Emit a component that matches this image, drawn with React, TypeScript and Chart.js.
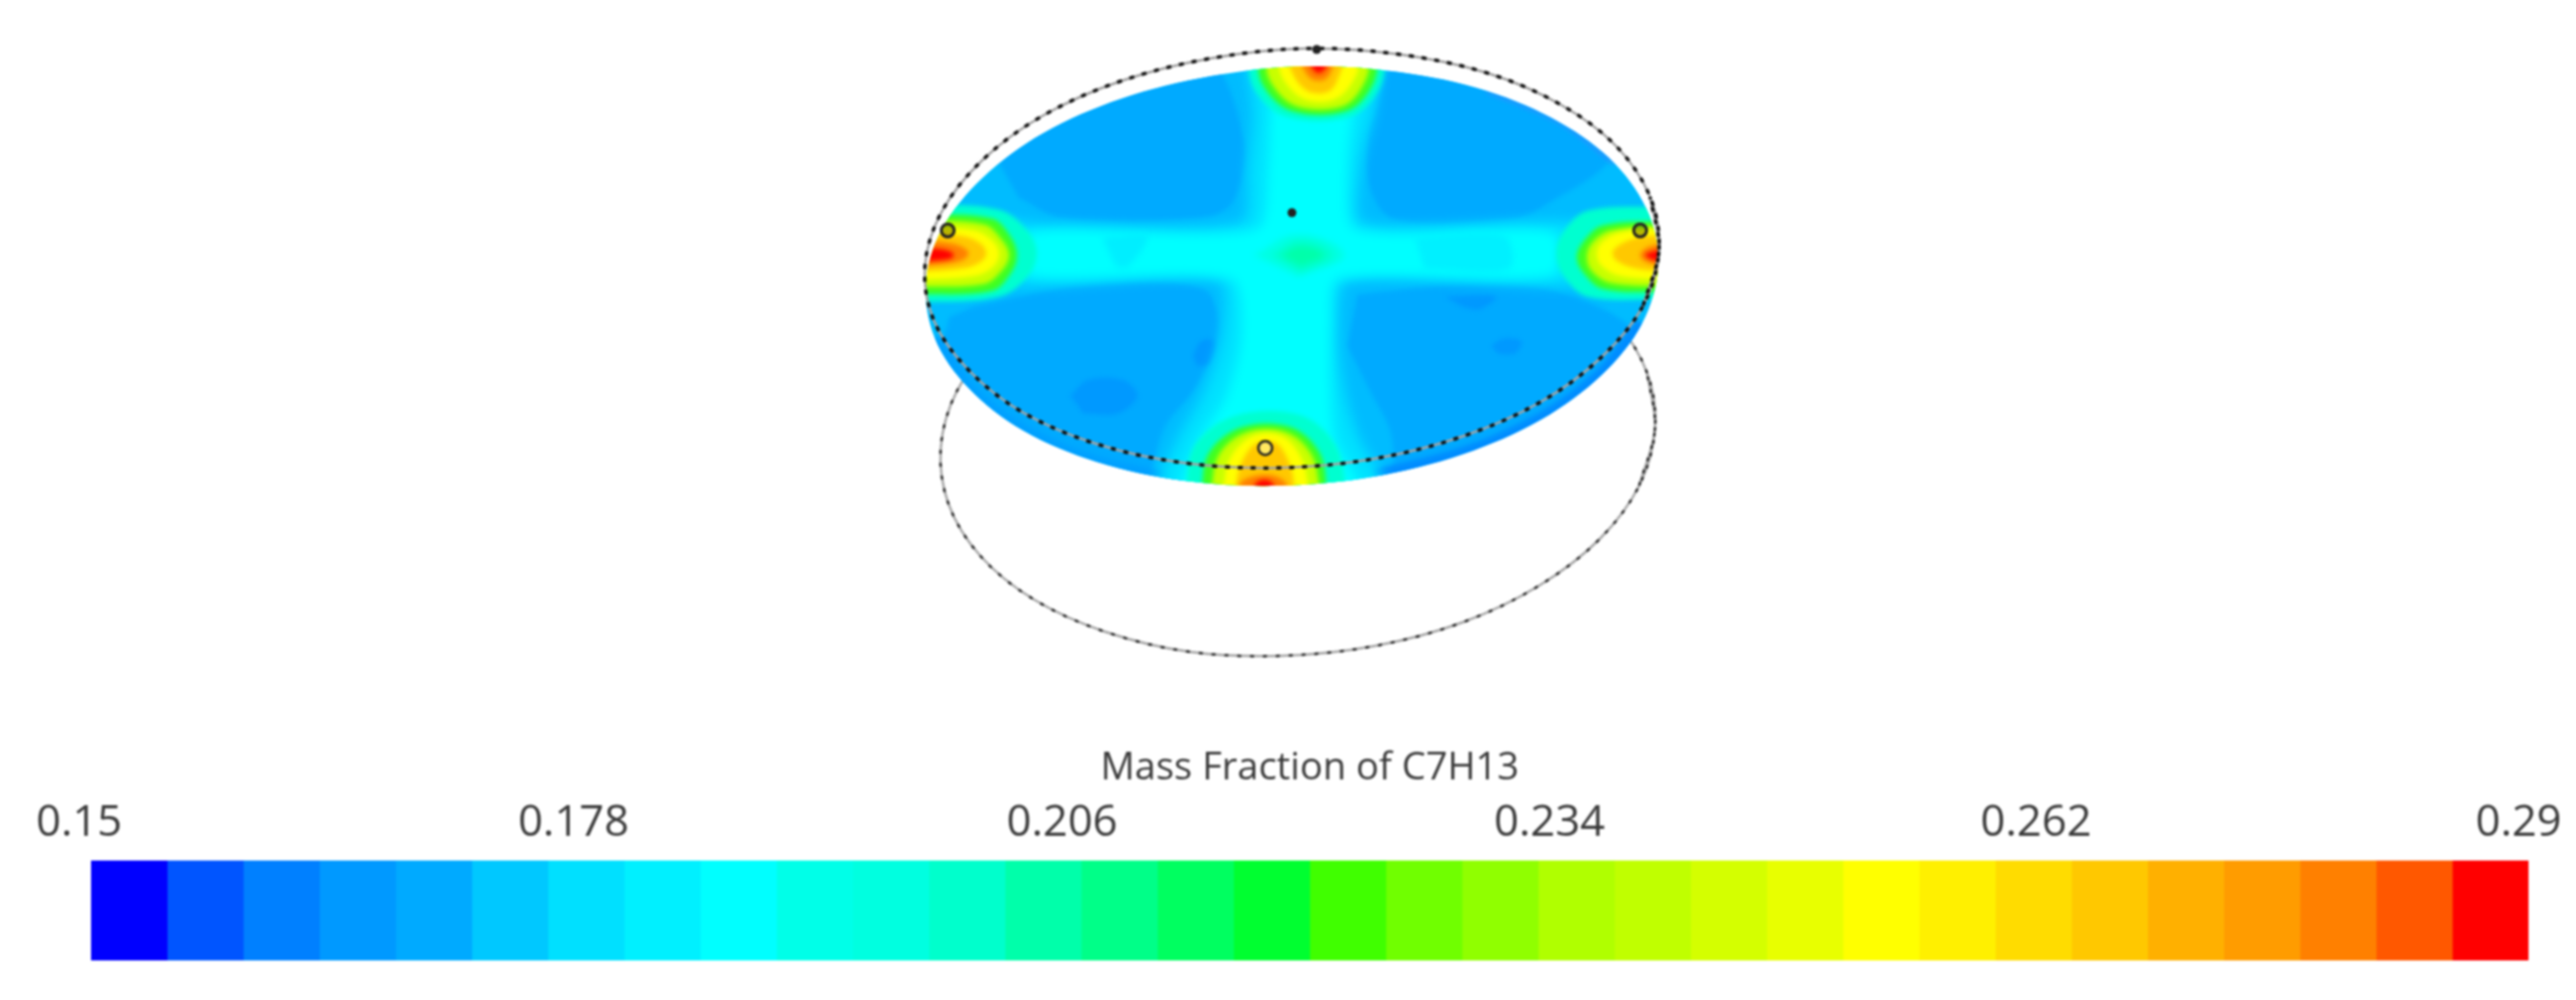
import React, { useEffect, useRef } from "react";
import { Chart, registerables } from "chart.js";

const clipToDisc = {
  id: "clipToDisc",
  beforeDatasetDraw(chart: any, args: any) {
    const ds = chart.data.datasets[args.index];
    if (!ds || (!ds.clipDisc && !ds.soft)) return;
    const ctx = chart.ctx;
    ctx.save();
    if (ds.clipDisc) {
      const idx = chart.data.datasets.findIndex((d: any) => d.isDisc);
      const meta = chart.getDatasetMeta(idx);
      meta.dataset.updateControlPoints(chart.chartArea, "x");
      const p = meta.data;
      ctx.beginPath();
      ctx.moveTo(p[0].x, p[0].y);
      for (let i = 1; i < p.length; i++) {
        ctx.bezierCurveTo(p[i - 1].cp2x, p[i - 1].cp2y, p[i].cp1x, p[i].cp1y, p[i].x, p[i].y);
      }
      ctx.closePath();
      ctx.clip();
    }
    if (ds.soft) ctx.filter = `blur(${ds.soft}px)`;
  },
  afterDatasetDraw(chart: any, args: any) {
    const ds = chart.data.datasets[args.index];
    if (ds && (ds.clipDisc || ds.soft)) chart.ctx.restore();
  },
};
Chart.register(clipToDisc);
Chart.register(...registerables);

type P = [number, number];

// ---------- colour bar ----------
const colorbarTitle = "Mass Fraction of C7H13";
const tickValues = [0.15, 0.178, 0.206, 0.234, 0.262, 0.29];
const tickNudge = [-12, -5, -4, -4, -5, -10];
const levels = [
  0.15, 0.154375, 0.15875, 0.163125, 0.1675, 0.171875, 0.17625, 0.180625, 0.185, 0.189375, 0.19375,
  0.198125, 0.2025, 0.206875, 0.21125, 0.215625, 0.22, 0.224375, 0.22875, 0.233125, 0.2375, 0.241875,
  0.24625, 0.250625, 0.255, 0.259375, 0.26375, 0.268125, 0.2725, 0.276875, 0.28125, 0.285625, 0.29,
];
const bandColors = [
  "#0000ff", "#0055ff", "#0080ff", "#0099ff", "#00aaff", "#00c8ff", "#00e0ff", "#00f0ff",
  "#00ffff", "#00ffe8", "#00ffe0", "#00ffcc", "#00ffaa", "#00ff88", "#00ff60", "#00ff30",
  "#40ff00", "#70ff00", "#90ff00", "#b0ff00", "#c0ff00", "#d4ff00", "#e8ff00", "#ffff00",
  "#fff000", "#ffdc00", "#ffc800", "#ffb000", "#ff9c00", "#ff8000", "#ff5800", "#ff0000",
];

// ---------- geometry ----------
const discOutline: P[] = [
  [1676, 271], [1667, 217], [1633, 166], [1577, 124], [1503, 92], [1415, 73], [1320, 67], [1224, 77],
  [1133, 100], [1054, 135], [993, 180], [952, 232], [936, 287], [945, 342], [979, 392], [1034, 435],
  [1109, 467], [1197, 486], [1292, 491], [1388, 482], [1479, 459], [1558, 424], [1619, 379], [1660, 327],
];
const topRing: P[] = [
  [1677, 253], [1668, 199], [1634, 148], [1578, 106], [1504, 74], [1415, 55], [1320, 49], [1224, 59],
  [1133, 82], [1054, 117], [993, 162], [952, 214], [935, 269], [944, 324], [979, 374], [1034, 417],
  [1109, 449], [1197, 468], [1292, 473], [1388, 464], [1479, 441], [1558, 406], [1619, 361], [1661, 309],
];
const lowerRing: P[] = [
  [1673, 433], [1665, 377], [1633, 325], [1578, 281], [1506, 248], [1421, 228], [1328, 223], [1234, 234],
  [1145, 258], [1068, 295], [1007, 342], [967, 396], [951, 453], [959, 510], [991, 562], [1045, 606],
  [1118, 639], [1203, 659], [1296, 663], [1390, 653], [1479, 629], [1556, 592], [1617, 545], [1657, 491],
];
const rimLeft: P[] = [[945, 342], [979, 392], [1034, 435], [1109, 467], [1197, 486]];
const rimRight: P[] = [[1388, 482], [1479, 459], [1558, 424], [1619, 379], [1660, 327]];
const rimTopRight: P[] = [[1503, 92], [1577, 124], [1633, 166]];

const lobeUL: P[] = [[1010, 165], [1060, 100], [1216, 60], [1257, 140], [1247, 203], [1216, 220], [1073, 220], [1030, 200]];
const lobeUR: P[] = [[1410, 50], [1520, 60], [1630, 150], [1558, 210], [1522, 222], [1410, 222], [1385, 190], [1382, 140], [1390, 113]];
const lobeLL: P[] = [[985, 310], [1100, 288], [1215, 292], [1232, 330], [1210, 390], [1178, 430], [1150, 495], [1040, 470], [950, 380], [960, 320]];
const lobeLR: P[] = [[1372, 298], [1480, 288], [1575, 295], [1660, 345], [1640, 420], [1530, 490], [1420, 500], [1405, 435], [1385, 395], [1362, 350]];
const darkPatches: P[][] = [
  [[1082, 400], [1100, 384], [1135, 384], [1150, 400], [1130, 418], [1095, 418]],
  [[1507, 350], [1520, 342], [1538, 345], [1532, 357], [1515, 358]],
  [[1206, 360], [1214, 345], [1227, 345], [1222, 368], [1210, 370]],
  [[1461, 300], [1512, 300], [1495, 313], [1478, 310]],
];
const crossMid: P[] = [
  [1260, 60], [1267, 113], [1262, 170], [1255, 225], [1060, 228], [1000, 226], [1000, 285], [1232, 283],
  [1236, 340], [1215, 400], [1190, 445], [1170, 500], [1400, 500], [1372, 440], [1360, 400], [1352, 340],
  [1362, 283], [1610, 285], [1610, 228], [1378, 226], [1375, 170], [1388, 113], [1395, 60],
];
const crossCore: P[] = [
  [1285, 80], [1282, 170], [1270, 232], [1040, 235], [1040, 278], [1245, 282], [1255, 340], [1240, 400],
  [1212, 445], [1195, 500], [1375, 500], [1350, 445], [1345, 390], [1345, 330], [1352, 282], [1570, 278],
  [1570, 235], [1370, 232], [1362, 170], [1372, 80],
];
const leftPatch: P[] = [[1114, 240], [1160, 238], [1140, 270], [1128, 270]];
const rightPatch: P[] = [[1430, 240], [1520, 238], [1525, 272], [1440, 272]];
const centerOuter: P[] = [[1267, 258], [1313, 237], [1359, 258], [1313, 280]];
const centerMid: P[] = [[1285, 258], [1315, 243], [1348, 258], [1315, 275]];
const centerInner: P[] = [[1295, 258], [1315, 249], [1338, 258], [1315, 269]];

const hotSteps = ["#00ffd0", "#40ff20", "#c8ff00", "#ffff00", "#ffc800", "#ff8000", "#ff0000"];
const topHot: P[][] = [
  [[1260, 50], [1268, 90], [1300, 118], [1365, 118], [1394, 90], [1402, 50]],
  [[1270, 50], [1276, 85], [1305, 112], [1362, 112], [1388, 85], [1394, 50]],
  [[1278, 50], [1284, 82], [1310, 107], [1358, 107], [1380, 82], [1387, 50]],
  [[1291, 50], [1296, 78], [1318, 100], [1350, 100], [1370, 78], [1376, 50]],
  [[1301, 50], [1306, 73], [1322, 92], [1344, 92], [1355, 73], [1361, 50]],
  [[1311, 50], [1316, 66], [1326, 80], [1340, 80], [1348, 66], [1353, 50]],
  [[1323, 50], [1325, 66], [1333, 74], [1342, 66], [1345, 50]],
];
const bottomHot: P[][] = [
  [[1198, 500], [1208, 450], [1250, 420], [1315, 420], [1350, 450], [1362, 500]],
  [[1214, 500], [1222, 458], [1255, 432], [1305, 432], [1334, 458], [1342, 500]],
  [[1224, 500], [1232, 460], [1260, 437], [1300, 437], [1326, 460], [1335, 500]],
  [[1236, 500], [1243, 464], [1266, 441], [1296, 441], [1316, 464], [1324, 500]],
  [[1248, 500], [1254, 470], [1270, 448], [1290, 448], [1304, 470], [1310, 500]],
  [[1250, 500], [1256, 486], [1280, 480], [1298, 486], [1304, 500]],
  [[1265, 500], [1270, 488], [1278, 485], [1286, 488], [1290, 500]],
];
const leftHot: P[][] = [
  [[925, 206], [1010, 212], [1040, 235], [1048, 256], [1040, 278], [1010, 300], [925, 306]],
  [[925, 216], [1003, 221], [1022, 240], [1028, 258], [1022, 276], [1003, 294], [925, 298]],
  [[925, 223], [995, 227], [1014, 244], [1020, 258], [1014, 272], [995, 287], [925, 290]],
  [[925, 229], [985, 233], [1004, 244], [1010, 257], [1004, 270], [985, 279], [925, 283]],
  [[925, 235], [975, 239], [992, 247], [997, 256], [992, 264], [975, 271], [925, 275]],
  [[925, 242], [962, 246], [975, 251], [979, 256], [975, 262], [962, 266], [925, 270]],
  [[925, 250], [952, 252], [962, 255], [964, 258], [962, 261], [952, 263], [925, 265]],
];
const rightHot: P[][] = [
  [[1685, 209], [1605, 213], [1580, 235], [1573, 257], [1580, 278], [1605, 300], [1685, 303]],
  [[1685, 223], [1620, 228], [1600, 245], [1594, 260], [1600, 275], [1620, 292], [1685, 296]],
  [[1685, 228], [1628, 233], [1609, 246], [1604, 260], [1609, 274], [1628, 286], [1685, 290]],
  [[1685, 230], [1638, 235], [1619, 245], [1614, 257], [1619, 269], [1638, 279], [1685, 283]],
  [[1685, 237], [1652, 241], [1635, 249], [1630, 256], [1635, 264], [1652, 271], [1685, 275]],
  [[1685, 245], [1668, 249], [1661, 253], [1658, 258], [1661, 263], [1668, 266], [1685, 270]],
  [[1685, 250], [1672, 254], [1665, 256], [1663, 258], [1665, 260], [1672, 263], [1685, 266]],
];
const openHoles: P[] = [[958, 233], [1658, 233]];
const bottomHole: P[] = [[1279, 453]];
const solidDots: P[] = [[1306, 215], [1331, 50]];

const pts = (a: P[]) => a.map(([x, y]) => ({ x, y }));
const loop = (a: P[]) => [a[a.length - 1], ...a, a[0], a[1]];

const poly = (a: P[], color: string, tension = 0.35, soft = 0) => ({
  data: pts(a),
  showLine: true,
  fill: "shape",
  backgroundColor: color,
  borderColor: color,
  borderWidth: 0,
  pointRadius: 0,
  tension,
  clipDisc: true,
  soft,
});
const arc = (a: P[], color: string, width: number) => ({
  data: pts(a),
  showLine: true,
  fill: false,
  borderColor: color,
  borderWidth: width,
  pointRadius: 0,
  tension: 0.34,
  clipDisc: true,
  soft: 2,
});
const ring = (a: P[], color: string, width: number, dash: number[]) => ({
  data: pts(loop(a)),
  showLine: true,
  fill: false,
  borderColor: color,
  borderWidth: width,
  borderDash: dash,
  pointRadius: 0,
  tension: 0.34,
  soft: 0.5,
});

export default function App() {
  const topRef = useRef<HTMLCanvasElement>(null);
  const barRef = useRef<HTMLCanvasElement>(null);

  useEffect(() => {
    document.body.style.margin = "0";
    document.body.style.background = "#fff";
    document.body.style.overflow = "hidden";

    const layers: any[] = [
      ring(lowerRing, "#a8a8a8", 2.5, []),
      ring(lowerRing, "#2a2a2a", 2.5, [4, 9]),
      {
        ...poly(loop(discOutline), "#00bcff", 0.34),
        isDisc: true,
        clipDisc: false,
      },
      poly(lobeUL, "#00aaff", 0.35, 2),
      poly(lobeUR, "#00aaff", 0.35, 2),
      poly(lobeLL, "#00aaff", 0.35, 2),
      poly(lobeLR, "#00aaff", 0.35, 2),
      ...darkPatches.map((d) => poly(d, "#0099ff", 0.35, 2)),
      arc(rimLeft, "#00a0ff", 12),
      arc(rimRight, "#008cff", 14),
      arc(rimTopRight, "#3090ff", 3),
      poly(crossMid, "#00e2ff", 0.25, 7),
      poly(crossCore, "#00ffff", 0.25, 6),
      poly(leftPatch, "#00eeff", 0.35, 3),
      poly(rightPatch, "#00f0ff", 0.35, 3),
      poly(centerOuter, "#00ffe4", 0.45, 3),
      poly(centerMid, "#00ffcc", 0.45, 3),
      poly(centerInner, "#00ffaa", 0.45, 3),
      ...topHot.map((d, i) => poly(d, hotSteps[i], 0.35, 2)),
      ...bottomHot.map((d, i) => poly(d, hotSteps[i], 0.35, 2)),
      ...leftHot.map((d, i) => poly(d, hotSteps[i], 0.35, 2)),
      ...rightHot.map((d, i) => poly(d, hotSteps[i], 0.35, 2)),
      ring(topRing, "#a0a0a0", 2.5, []),
      ring(topRing, "#111111", 3.5, [5, 8]),
      {
        data: pts(openHoles),
        showLine: false,
        pointRadius: 6.5,
        pointStyle: "circle",
        pointBorderColor: "#222222",
        pointBackgroundColor: "rgba(60,60,0,0.35)",
        pointBorderWidth: 3,
      },
      {
        data: pts(bottomHole),
        showLine: false,
        pointRadius: 7,
        pointStyle: "circle",
        pointBorderColor: "#222222",
        pointBackgroundColor: "#ffe860",
        pointBorderWidth: 2.5,
      },
      {
        data: pts(solidDots),
        showLine: false,
        pointRadius: 4.5,
        pointStyle: "circle",
        pointBorderColor: "#222222",
        pointBackgroundColor: "#222222",
        pointBorderWidth: 0,
      },
    ];

    const contour = new Chart(topRef.current!, {
      type: "scatter",
      data: { datasets: [...layers].reverse() },
      options: {
        animation: false,
        responsive: false,
        maintainAspectRatio: false,
        layout: { padding: 0, autoPadding: false },
        plugins: { legend: { display: false }, tooltip: { enabled: false } },
        events: [],
        scales: {
          x: { type: "linear", min: 0, max: 2604, display: false },
          y: { type: "linear", min: 0, max: 740, reverse: true, display: false },
        },
      },
    } as any);

    const bar = new Chart(barRef.current!, {
      type: "bar",
      data: {
        labels: [""],
        datasets: bandColors.map((c, i) => ({
          data: [[levels[i], levels[i + 1]]],
          backgroundColor: c,
          borderWidth: 0,
          grouped: false,
          barPercentage: 1,
          categoryPercentage: 1,
        })),
      },
      options: {
        indexAxis: "y",
        animation: false,
        responsive: false,
        maintainAspectRatio: false,
        layout: { padding: { left: 92, right: 48, top: 0, bottom: 40 } },
        plugins: { legend: { display: false }, tooltip: { enabled: false } },
        events: [],
        scales: {
          x: {
            type: "linear",
            position: "top",
            min: 0.15,
            max: 0.29,
            grid: { display: false },
            border: { display: false },
            afterBuildTicks: (s: any) => {
              s.ticks = tickValues.map((value) => ({ value }));
              s.getPixelForTick = (i: number) => s.getPixelForValue(tickValues[i]) + tickNudge[i];
            },
            afterFit: (s: any) => {
              s.height = 130;
              s.paddingLeft = 0;
              s.paddingRight = 0;
            },
            ticks: {
              callback: (v: any) => String(v),
              autoSkip: false,
              maxRotation: 0,
              padding: 3,
              color: "#3a3a3a",
              font: { family: "'Open Sans'", size: 44 },
            },
            title: {
              display: true,
              text: colorbarTitle,
              color: "#3a3a3a",
              font: { family: "'Open Sans'", size: 38.5 },
              padding: { top: 14, bottom: 0 },
            },
          },
          y: { type: "category", display: false },
        },
      },
    } as any);

    return () => {
      contour.destroy();
      bar.destroy();
    };
  }, []);

  return (
    <div style={{ position: "fixed", left: 0, top: 0, width: 2604, height: 1011, background: "#fff", overflow: "hidden" }}>
      <canvas ref={topRef} width={2604} height={740} style={{ position: "absolute", left: 0, top: 0, width: 2604, height: 740, filter: "blur(1px)" }} />
      <canvas ref={barRef} width={2604} height={271} style={{ position: "absolute", left: 0, top: 740, width: 2604, height: 271, filter: "blur(1px)" }} />
    </div>
  );
}
